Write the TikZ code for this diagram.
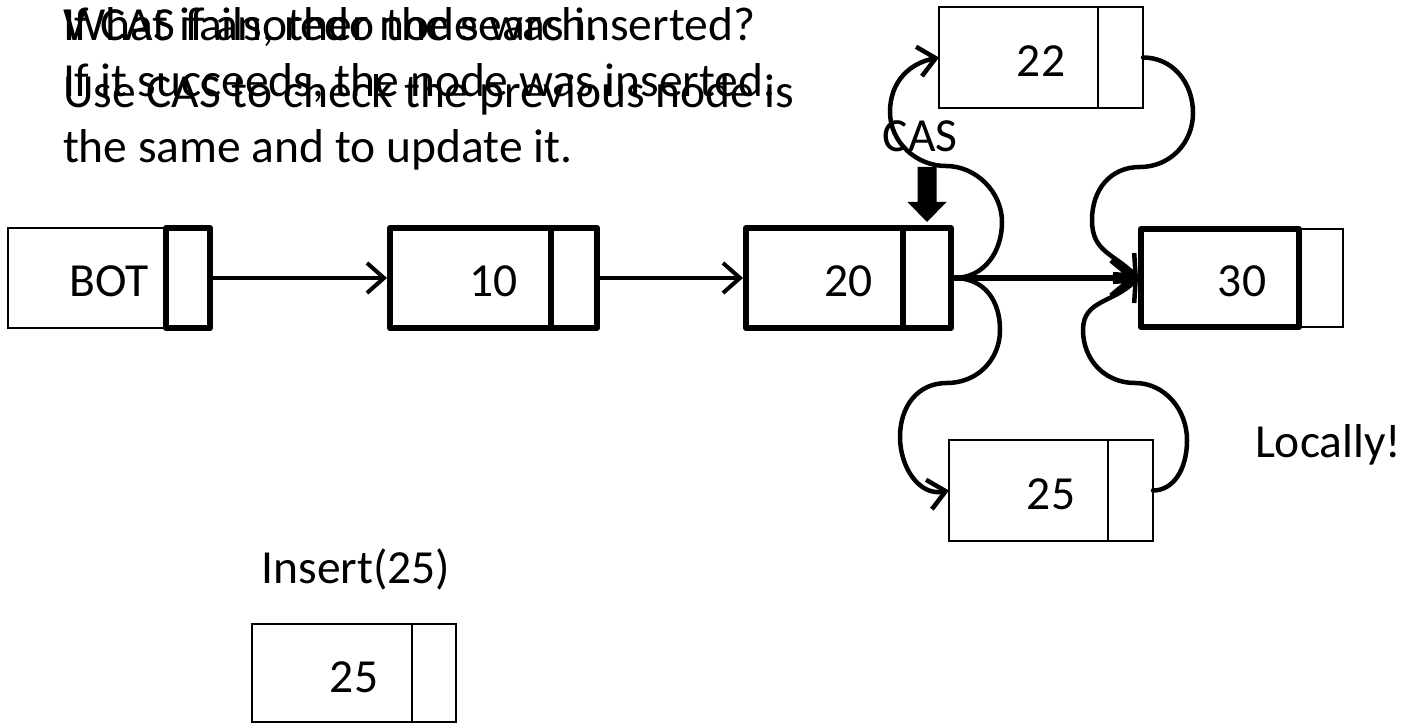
\documentclass[tikz,border=0pt]{standalone}
\usepackage{fontspec}
\setmainfont{Carlito}
\usetikzlibrary{arrows.meta}
\begin{document}
\begin{tikzpicture}[x=1pt,y=1pt,
  every node/.style={font=\fontsize{47.5}{56}\selectfont, inner sep=0pt, outer sep=0pt},
  cell/.style={minimum height=100pt, text height=38pt, text depth=0pt},
  thinln/.style={line width=2.5pt},
  thickln/.style={line width=6pt, line join=round},
  ptr/.style={line width=4pt, -{Straight Barb[length=17pt,width=30pt]}},
  bigptr/.style={line width=6pt, -{Straight Barb[length=22pt,width=36pt]}},
  curvy/.style={line width=4.5pt, line cap=round, -{Straight Barb[length=17pt,width=30pt]}},
  txt/.style={anchor=base west}]
\useasboundingbox (0,0) rectangle (1426,723);

% text
\node[txt] (ta1) at (63,682) {What if another node was inserted?};
\node[txt] (tb1) at (63,682) {If CAS fails, redo the search.};
\node[txt] (ta2) at (63,626) {If it succeeds, the node was inserted.};
\node[txt] (tb2) at (63,615) {Use CAS to check the previous node is};
\node[txt] (tb3) at (63,560) {the same and to update it.};
\node[anchor=base] (cas) at (920,571) {CAS};
\node[anchor=base] (ins) at (356,140) {Insert(25)};
\node[txt] (loc) at (1255,265) {Locally!};

% BOT
\node[cell, minimum width=202pt] (bot) at (109,445) {BOT};
\draw[thinln] (bot.south west) rectangle ([xshift=-44pt]bot.north east);
\draw[thickln] ([xshift=-44pt]bot.south east) rectangle (bot.north east);

% 10
\node[cell, minimum width=207pt, draw, thickln] (n10) at (493.5,445) {10};
\draw[thickln] ([xshift=-46pt]n10.north east) -- ([xshift=-46pt]n10.south east);

% 20
\node[cell, minimum width=205pt, draw, thickln] (n20) at (848.5,445) {20};
\draw[thickln] ([xshift=-48pt]n20.north east) -- ([xshift=-48pt]n20.south east);

% 30
\node[cell, minimum width=202pt, minimum height=98pt] (n30) at (1242,445) {30};
\draw[thinln] ([xshift=-44pt]n30.south east) rectangle (n30.north east);
\draw[thickln] (n30.south west) rectangle ([xshift=-44pt]n30.north east);

% 22
\node[cell, minimum width=204pt, minimum height=101pt, draw, thinln] (n22) at (1041,665.5) {22};
\draw[thinln] ([xshift=-45pt]n22.north east) -- ([xshift=-45pt]n22.south east);

% 25 (placed)
\node[cell, minimum width=204pt, minimum height=101pt, draw, thinln] (n25r) at (1051,232.5) {25};
\draw[thinln] ([xshift=-45pt]n25r.north east) -- ([xshift=-45pt]n25r.south east);

% 25 (new)
\node[cell, minimum width=204pt, minimum height=98pt, draw, thinln] (n25b) at (354,50) {25};
\draw[thinln] ([xshift=-44pt]n25b.north east) -- ([xshift=-44pt]n25b.south east);

% straight pointers
\draw[ptr] ([xshift=3pt]bot.east) -- ([xshift=-3pt]n10.west);
\draw[ptr] ([xshift=3pt]n10.east) -- ([xshift=-3pt]n20.west);

% curved pointers
\draw[curvy] ([xshift=3pt]n20.east) .. controls +(30,0) and +(0,-30) .. (1002,501)
  .. controls +(0,30) and +(30,0) .. (946,557)
  .. controls +(-30,0) and +(0,-30) .. (890,611)
  .. controls +(0,30) and +(-30,-6) .. (n22.west);
\draw[curvy] (n22.east) .. controls +(30,0) and +(0,30) .. (1193,610)
  .. controls +(0,-30) and +(30,0) .. (1140,556)
  .. controls +(-30,0) and +(0,30) .. (1092,503)
  .. controls +(0,-32) and +(-25,25) .. ([xshift=-3pt]n30.west);
\draw[curvy] ([xshift=3pt]n20.east) .. controls +(30,0) and +(0,30) .. (1000,393)
  .. controls +(0,-30) and +(30,0) .. (947,340)
  .. controls +(-30,0) and +(0,30) .. (900,286)
  .. controls +(0,-30) and +(-30,-6) .. (n25r.west);
\draw[curvy] (n25r.east) .. controls +(20,0) and +(0,-30) .. (1187,283)
  .. controls +(0,30) and +(30,0) .. (1135,340)
  .. controls +(-30,0) and +(0,-30) .. (1083,393)
  .. controls +(0,30) and +(-25,-25) .. ([xshift=-3pt]n30.west);

\draw[bigptr] ([xshift=3pt]n20.east) -- ([xshift=-3pt]n30.west);

% CAS block arrow
\coordinate (castip) at ([xshift=-24pt,yshift=6pt]n20.north east);
\fill (castip) -- ++(-19.5,20) -- ++(10,0) -- ++(0,35) -- ++(19,0) -- ++(0,-35) -- ++(10,0) -- cycle;
\end{tikzpicture}
\end{document}
